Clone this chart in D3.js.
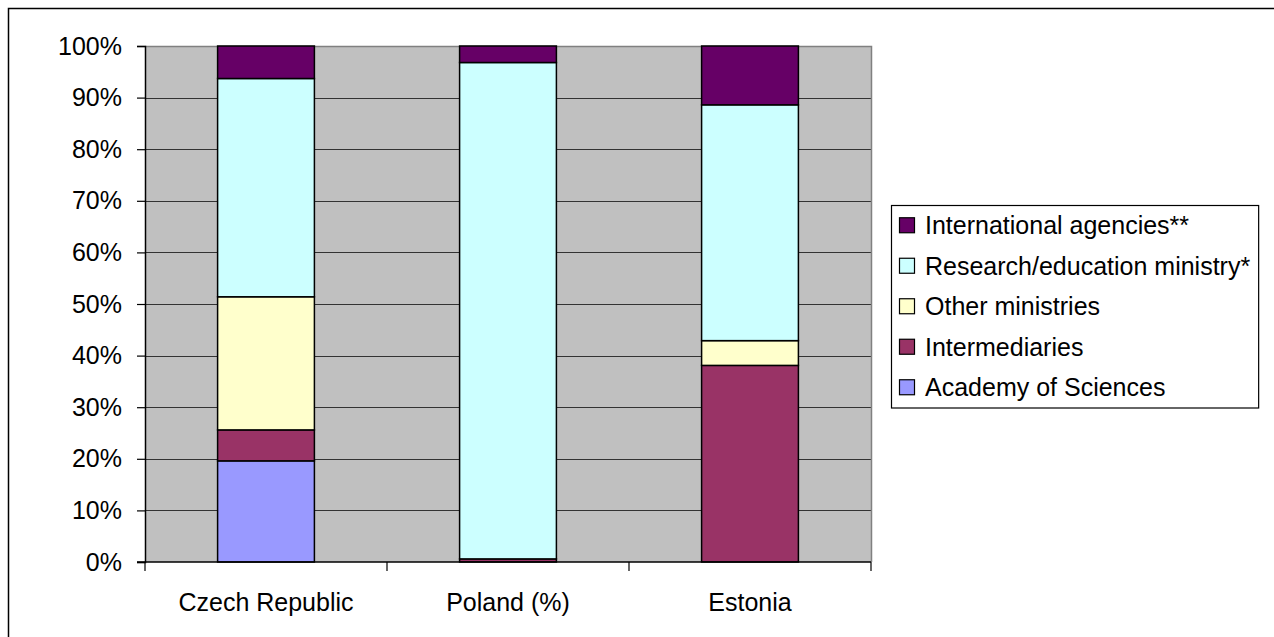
<!DOCTYPE html>
<html>
<head>
<meta charset="utf-8">
<script src="https://cdn.jsdelivr.net/npm/d3@7"></script>
<style>
  html, body { margin: 0; padding: 0; background: #fff; }
  svg { display: block; font-family: "Liberation Sans", Arial, sans-serif; }
</style>
</head>
<body>
<svg id="chart" width="1274" height="637"></svg>
<script>
// Funding sources by country, share of total (%)
const countries = ["Czech Republic", "Poland (%)", "Estonia"];
const seriesNames = ["Academy of Sciences", "Intermediaries", "Other ministries",
                     "Research/education ministry*", "International agencies**"];
const academy        = [19.6, 0.0, 0.0];
const intermediaries = [6.0, 0.6, 38.1];
const otherMin       = [25.8, 0.0, 4.8];
const researchMin    = [42.3, 96.2, 45.7];
const international  = [6.3, 3.2, 11.4];
const seriesColors = ["#9999FF", "#993366", "#FFFFCC", "#CCFFFF", "#660066"];
const yTicks = [0, 10, 20, 30, 40, 50, 60, 70, 80, 90, 100];

const FONT = 25;

const seriesValues = [academy, intermediaries, otherMin, researchMin, international];
const rows = countries.map((c, i) => {
  const r = { country: c };
  seriesNames.forEach((s, k) => { r[s] = seriesValues[k][i]; });
  return r;
});
const stacked = d3.stack().keys(seriesNames)
  .offset(d3.stackOffsetExpand)(rows);

const svg = d3.select("#chart");
const plot = { left: 145, right: 871, top: 46, bottom: 562 };

// outer chart frame
svg.append("rect")
  .attr("x", 8.5).attr("y", 8.5).attr("width", 1300).attr("height", 700)
  .attr("fill", "#fff").attr("stroke", "#000").attr("stroke-width", 1.5);

const x = d3.scaleBand().domain(countries)
  .range([plot.left, plot.right]).paddingInner(0.6).paddingOuter(0.3);
const xOuter = d3.scaleBand().domain(countries).range([plot.left, plot.right]);
const y = d3.scaleLinear().domain([0, 1]).range([plot.bottom, plot.top]);

// plot background
svg.append("rect")
  .attr("x", plot.left).attr("y", plot.top)
  .attr("width", plot.right - plot.left).attr("height", plot.bottom - plot.top)
  .attr("fill", "#C0C0C0");

// gridlines
svg.append("g").selectAll("line")
  .data(yTicks.filter(t => t > 0 && t < 100))
  .join("line")
  .attr("x1", plot.left).attr("x2", plot.right)
  .attr("y1", d => Math.round(y(d / 100)) + 0.5)
  .attr("y2", d => Math.round(y(d / 100)) + 0.5)
  .attr("stroke", "#333").attr("stroke-width", 1);

// plot frame top/right
svg.append("path")
  .attr("d", `M${plot.left},${plot.top + 0.5}H${plot.right + 0.5}V${plot.bottom}`)
  .attr("fill", "none").attr("stroke", "#808080").attr("stroke-width", 1.5);

// stacked bars
svg.append("g").selectAll("g")
  .data(stacked)
  .join("g")
  .attr("fill", (d, i) => seriesColors[i])
  .selectAll("rect")
  .data(d => d.filter(p => p[1] - p[0] > 0))
  .join("rect")
  .attr("x", d => x(d.data.country))
  .attr("width", x.bandwidth())
  .attr("y", d => y(d[1]))
  .attr("height", d => y(d[0]) - y(d[1]))
  .attr("stroke", "#000").attr("stroke-width", 1.5);

// y axis
const yAxis = d3.axisLeft(y)
  .tickValues(yTicks.map(t => t / 100))
  .tickFormat(d => Math.round(d * 100) + "%")
  .tickSize(8).tickPadding(15);
const gy = svg.append("g").attr("transform", `translate(${plot.left},0)`).call(yAxis);
gy.select(".domain").attr("stroke", "#000").attr("stroke-width", 1.5);
gy.selectAll(".tick line").attr("stroke", "#000").attr("stroke-width", 1.2);
gy.selectAll("text").attr("font-size", FONT).attr("fill", "#000")
  .attr("font-family", "Liberation Sans, Arial, sans-serif");

// x axis (ticks at category boundaries)
const gx = svg.append("g").attr("transform", `translate(0,${plot.bottom})`);
gx.append("line").attr("x1", plot.left - 8).attr("x2", plot.right)
  .attr("stroke", "#000").attr("stroke-width", 1.5);
const bounds = countries.map(c => xOuter(c)).concat([plot.right]);
gx.selectAll("line.tk").data(bounds).join("line").attr("class", "tk")
  .attr("x1", d => d).attr("x2", d => d).attr("y1", 0).attr("y2", 9)
  .attr("stroke", "#000").attr("stroke-width", 1.2);
gx.selectAll("text").data(countries).join("text")
  .attr("x", d => xOuter(d) + xOuter.bandwidth() / 2)
  .attr("y", 49)
  .attr("text-anchor", "middle")
  .attr("font-size", FONT).attr("fill", "#000")
  .text(d => d);

// legend
const legendItems = seriesNames.map((n, i) => ({ name: n, color: seriesColors[i] })).reverse();
const lg = svg.append("g");
const lgX = 891, lgTop = 205, rowH = 40.5;
const frame = lg.append("rect")
  .attr("x", lgX + 0.5).attr("y", lgTop + 0.5)
  .attr("height", rowH * 5)
  .attr("fill", "#fff").attr("stroke", "#000").attr("stroke-width", 1.2);
const li = lg.selectAll("g.it").data(legendItems).join("g").attr("class", "it")
  .attr("transform", (d, i) => `translate(${lgX},${lgTop + rowH * i + rowH / 2})`);
li.append("rect")
  .attr("x", 8.5).attr("y", -7.5).attr("width", 15).attr("height", 15)
  .attr("fill", d => d.color).attr("stroke", "#000").attr("stroke-width", 1.2);
const labels = li.append("text")
  .attr("x", 34).attr("y", 0).attr("dy", "0.35em")
  .attr("font-size", FONT).attr("fill", "#000")
  .text(d => d.name);
let maxW = 0;
labels.each(function () { maxW = Math.max(maxW, this.getComputedTextLength()); });
frame.attr("width", 34 + maxW + 8);
</script>
</body>
</html>
